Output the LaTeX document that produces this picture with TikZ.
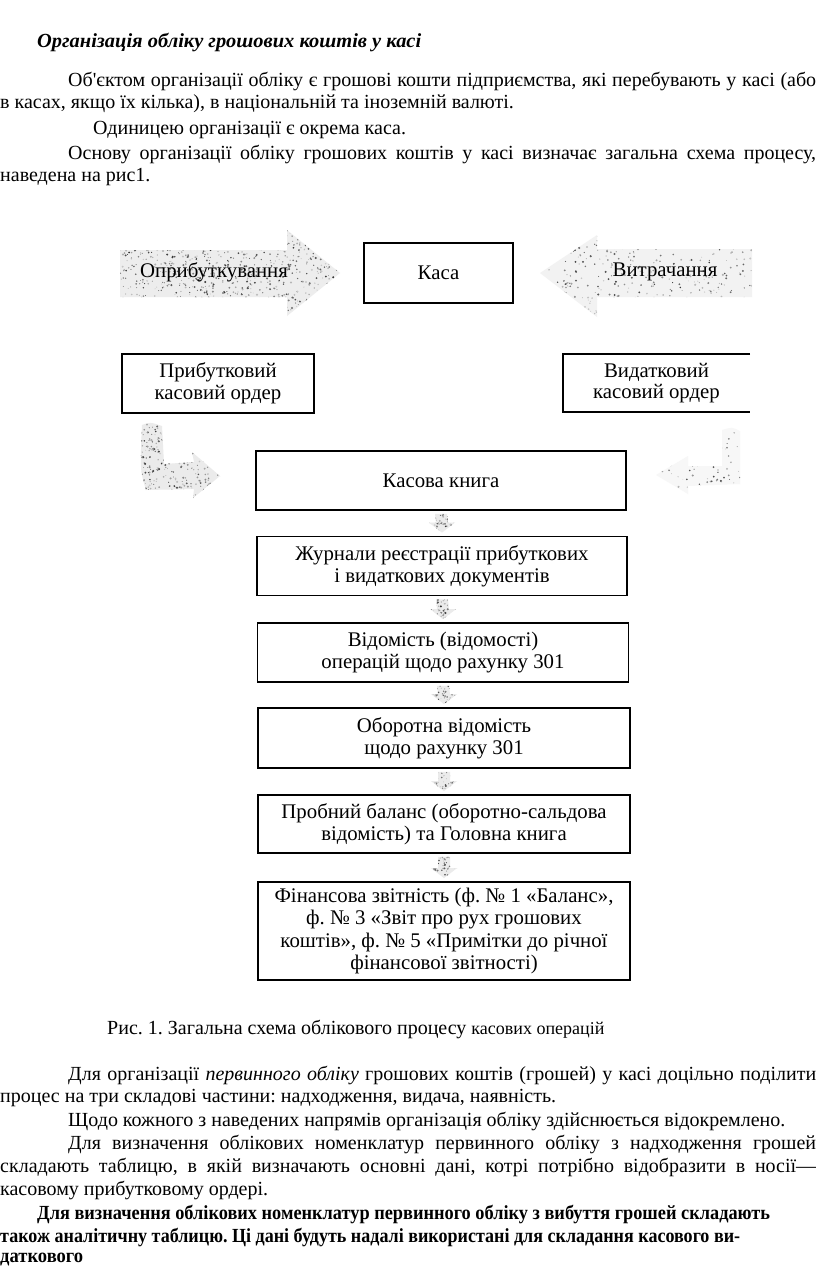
\documentclass[tikz,border=0pt]{standalone}
\usepackage{fontspec}
\usepackage{graphicx}
\setmainfont{Liberation Serif}
\newfontfamily\bodyf{Liberation Serif}
\newfontfamily\boxf{Liberation Serif}
\usetikzlibrary{calc}
\frenchspacing
\newcommand\fitw[2]{\sbox0{#2}\scalebox{\fpeval{#1/\wd0}}[1]{\usebox0}}
\tikzset{
 ln/.style={anchor=west, inner sep=0pt, font=\bodyf\fontsize{20}{23}\selectfont},
 bln/.style={ln, font=\bodyf\fontsize{20}{23}\selectfont\bfseries},
 bx/.style={draw=black, line width=1.8pt, align=center, inner sep=0pt, font=\boxf\fontsize{20.8}{21.8}\selectfont},
 lbl/.style={inner sep=0pt, align=center, font=\boxf\fontsize{20.8}{21.8}\selectfont},
 spfill/.style={fill=black!8},
}
\newcommand\speck[5]{%
 \begin{scope}
  \clip #1;
  \fill[spfill] ($(#3)+(-2,-2)$) rectangle ($(#3)+(#4+2,#5+2)$);
  \foreach \i in {1,...,#2}{%
   \pgfmathsetmacro\rr{0.35+0.8*rnd}%
   \pgfmathtruncatemacro\cc{20+60*rnd}%
   \fill[black!\cc] ($(#3)+({rnd*#4},{rnd*#5})$) circle[radius=\rr pt];}
 \end{scope}}
\newcommand\vdown[2]{%
 \coordinate (t) at ($(#1.south)+(0,3)$);
 \coordinate (b) at ($(#2.north)+(0,-3)$);
 \speck{($(t)+(-6,0)$) -- ($(t)+(6,0)$) -- ($(b)+(6,-10)$) -- ($(b)+(13,-10)$) -- (b) -- ($(b)+(-13,-10)$) -- ($(b)+(-6,-10)$) -- cycle}{80}{$(t)+(-14,0)$}{28}{24}}
\begin{document}
\begin{tikzpicture}[x=1pt,y=-1pt]
\pgfmathsetseed{7}
\useasboundingbox[fill=white] (0,0) rectangle (816,1274);
\coordinate (o) at (0,0);

% ---- text above the diagram
\node[ln, font=\bodyf\fontsize{20}{23}\selectfont\bfseries\itshape] (title) at (37,42) {\fitw{384pt}{Організація обліку грошових коштів у касі}};
\node[ln] (p1a) at (68,81) {\makebox[748pt][s]{Об'єктом організації обліку є грошові кошти підприємства, які перебувають у касі (або}};
\node[ln] (p1b) at (0,104) {в касах, якщо їх кілька), в національній та іноземній валюті.};
\node[ln] (p2) at (93,130) {Одиницею організації є окрема каса.};
\node[ln] (p3a) at (68,154) {\makebox[748pt][s]{Основу організації обліку грошових коштів у касі визначає загальна схема процесу,}};
\node[ln] (p3b) at (0,177) {наведена на рис1.};

% ---- speckled block arrows
\coordinate (la) at (118,228);
\begin{scope}[spfill/.style={fill=black!7}]
\speck{(120,250) -- (287,250) -- (287,230) -- (340,273) -- (287,316) -- (287,297) -- (120,297) -- cycle}{1000}{la}{224}{90}
\end{scope}
\coordinate (ra) at (538,233);
\begin{scope}[spfill/.style={fill=black!5}]
\speck{(752,249) -- (597,249) -- (597,235) -- (540,273) -- (597,317) -- (597,297) -- (752,297) -- cycle}{450}{ra}{216}{86}
\end{scope}
\coordinate (lb) at (138,423);
\speck{(142,425) .. controls (150,422) .. (162,426) -- (164,464) -- (194,462) -- (192,452) -- (220,476) -- (193,498) -- (194,489) -- (146,490) .. controls (140,470) .. (142,425) -- cycle}{420}{lb}{84}{76}
\coordinate (rb) at (652,428);
\begin{scope}[spfill/.style={fill=black!3}]
\speck{(722,430) .. controls (732,427) .. (740,431) -- (740,484) -- (688,486) -- (688,494) -- (656,475) -- (688,456) -- (688,466) -- (722,466) -- cycle}{120}{rb}{90}{68}
\end{scope}

% ---- labels of block arrows
\node[lbl] (opr) at (214,272) {Оприбуткування};
\node[lbl] (vtr) at (665,272) {Витрачання};

% ---- boxes
\node[bx, minimum width=149pt, minimum height=60pt] (kasa) at (438.5,273) {Каса};
\node[bx, minimum width=192pt, minimum height=59pt] (pko) at (218,383.5) {Прибутковий\\касовий ордер};
\node[lbl, minimum width=187pt, minimum height=58pt] (vko) at (656.5,383) {Видатковий\\касовий ордер};
\draw[line width=1.8pt] (vko.north east) -- (vko.north west) -- (vko.south west) -- (vko.south east);
\node[bx, minimum width=370pt, minimum height=59pt] (kk) at (441,480.5) {Касова книга};
\node[bx, minimum width=370pt, minimum height=59pt] (jr) at (442,566) {Журнали реєстрації прибуткових\\і видаткових документів};
\node[bx, minimum width=371pt, minimum height=59pt] (vd) at (443,652.5) {Відомість (відомості)\\операцій щодо рахунку 301};
\node[bx, minimum width=372pt, minimum height=60pt] (ov) at (444,738) {Оборотна відомість\\щодо рахунку 301};
\node[bx, minimum width=372pt, minimum height=58pt] (pb) at (444,824) {Пробний баланс (оборотно-сальдова\\відомість) та Головна книга};
\node[bx, minimum width=372pt, minimum height=98pt, font=\boxf\fontsize{20.8}{22.3}\selectfont] (fz) at (444,931) {Фінансова звітність (ф. № 1 «Баланс»,\\ф. № 3 «Звіт про рух грошових\\коштів», ф. № 5 «Примітки до річної\\фінансової звітності)};

% ---- small arrows between boxes
\vdown{kk}{jr}
\vdown{jr}{vd}
\vdown{vd}{ov}
\vdown{ov}{pb}
\vdown{pb}{fz}

% ---- caption and text below
\node[ln] (cap) at (107,1029) {Рис. 1. Загальна схема облікового процесу {\fontsize{18}{23}\selectfont касових операцій}};
\node[ln] (q1a) at (68,1075) {\makebox[748pt][s]{Для організації \textit{первинного обліку} грошових коштів (грошей) у касі доцільно поділити}};
\node[ln] (q1b) at (0,1098) {процес на три складові частини: надходження, видача, наявність.};
\node[ln] (q2) at (68,1121) {Щодо кожного з наведених напрямів організація обліку здійснюється відокремлено.};
\node[ln] (q3a) at (68,1144) {\makebox[748pt][s]{Для визначення облікових номенклатур первинного обліку з надходження грошей}};
\node[ln] (q3b) at (0,1167) {\makebox[816pt][s]{складають таблицю, в якій визначають основні дані, котрі потрібно відобразити в носії—}};
\node[ln] (q3c) at (0,1190) {касовому прибутковому ордері.};
\node[bln] (q4a) at (37,1214) {\fitw{733pt}{Для визначення облікових номенклатур первинного обліку з вибуття грошей складають}};
\node[bln] (q4b) at (0,1237) {\fitw{740pt}{також аналітичну таблицю. Ці дані будуть надалі використані для складання касового ви-}};
\node[bln] (q4c) at (0,1260) {\fitw{83pt}{даткового}};
\end{tikzpicture}
\end{document}
